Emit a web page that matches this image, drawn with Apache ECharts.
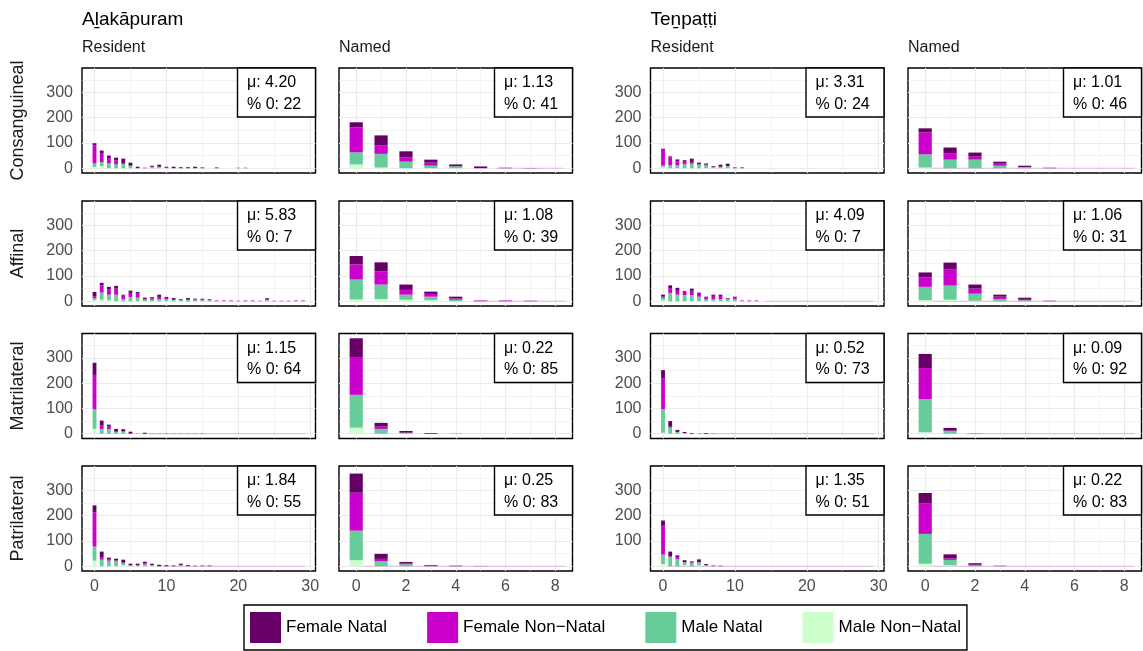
<!DOCTYPE html>
<html><head><meta charset="utf-8">
<script src="https://cdn.jsdelivr.net/npm/echarts@6/dist/echarts.min.js"></script>
<style>html,body{margin:0;padding:0;background:#fff}#c{width:1143px;height:651px}</style>
</head><body><div id="c"></div>
<script>
// ---------- labels ----------
const villages = ['Aḻakāpuram', 'Teṉpaṭṭi'];
const measures = ['Resident', 'Named'];
const relations = ['Consanguineal', 'Affinal', 'Matrilateral', 'Patrilateral'];
const groups = ['Female Natal', 'Female Non\u2212Natal', 'Male Natal', 'Male Non\u2212Natal'];
const groupColors = ['#660066', '#cc00cc', '#66cc99', '#ccffcc'];

// ---------- x categories / ticks ----------
const residentX = [0,1,2,3,4,5,6,7,8,9,10,11,12,13,14,15,16,17,18,19,20,21,22,23,24,25,26,27,28,29];
const namedX = [0,1,2,3,4,5,6,7,8];
const residentTicks = [0, 10, 20, 30];
const residentMinor = [5, 15, 25];
const namedTicks = [0, 2, 4, 6, 8];
const namedMinor = [1, 3, 5, 7];
const yTicks = [0, 100, 200, 300];
const yMinor = [50, 150, 250, 350];

// ---------- summary stats (mean, % zero) ----------
const muAlaRes = ['4.20', '5.83', '1.15', '1.84'];
const zeroAlaRes = ['22', '7', '64', '55'];
const muAlaNam = ['1.13', '1.08', '0.22', '0.25'];
const zeroAlaNam = ['41', '39', '85', '83'];
const muTenRes = ['3.31', '4.09', '0.52', '1.35'];
const zeroTenRes = ['24', '7', '73', '51'];
const muTenNam = ['1.01', '1.06', '0.09', '0.22'];
const zeroTenNam = ['46', '31', '92', '83'];

// ---------- counts: Aḻakāpuram, Resident ----------
const alaResConFN  = [8,10,10,10,17,12,6,2,4,8,4,6,4,4,6,3,0,3,0,0,0,0,0,0,0,0,0,0,0,0];
const alaResConFNN = [72,36,21,16,4,0,0,0,1,0,0,0,0,0,0,0,0,0,0,0,2,2,0,0,0,0,0,0,0,0];
const alaResConMN  = [14,15,19,16,17,10,0,0,5,6,2,0,0,0,0,0,0,0,0,0,0,0,0,0,0,0,0,0,0,0];
const alaResConMNN = [5,9,0,0,0,0,0,0,0,0,0,0,0,0,0,0,0,0,0,0,0,0,0,0,0,0,0,0,0,0];

const alaResAffFN  = [17,11,11,11,4,9,4,5,5,9,4,4,0,4,3,3,0,0,0,0,0,0,0,0,4,0,0,0,0,0];
const alaResAffFNN = [8,28,20,24,13,16,19,3,5,8,5,4,4,4,3,3,4,3,3,3,2,3,3,2,4,2,2,2,3,3];
const alaResAffMN  = [8,28,22,26,9,17,14,6,6,9,8,5,5,5,4,4,4,0,0,0,0,0,0,0,4,0,0,0,0,0];
const alaResAffMNN = [4,6,4,0,0,0,0,0,0,0,0,0,0,0,0,0,0,0,0,0,0,0,0,0,0,0,0,0,0,0];

const alaResMatFN  = [48,20,8,11,9,8,1,4,0,0,0,0,0,0,0,0,0,0,0,0,0,0,0,0,0,0,0,0,0,0];
const alaResMatFNN = [136,13,9,0,0,0,0,0,1,1,1,1,1,1,1,1,0,0,0,0,0,0,0,0,0,0,0,0,0,0];
const alaResMatMN  = [78,19,19,8,9,0,0,0,0,0,0,0,0,0,0,0,0,0,0,0,0,0,0,0,0,0,0,0,0,0];
const alaResMatMNN = [19,0,0,0,0,0,0,0,0,0,0,0,0,0,0,0,0,0,0,0,0,0,0,0,0,0,0,0,0,0];

const alaResPatFN  = [28,24,8,8,12,6,6,7,5,6,4,3,5,4,2,0,0,0,0,0,0,0,0,0,0,0,0,0,0,0];
const alaResPatFNN = [135,8,4,0,0,0,0,4,0,0,0,0,0,0,0,3,3,0,0,0,0,0,0,0,0,0,0,0,0,0];
const alaResPatMN  = [56,26,22,22,10,4,4,7,5,0,0,0,5,0,0,0,0,0,0,0,0,0,0,0,0,0,0,0,0,0];
const alaResPatMNN = [22,0,0,0,4,0,0,0,0,0,0,0,0,0,0,0,0,0,0,0,0,0,0,0,0,0,0,0,0,0];

// ---------- counts: Aḻakāpuram, Named ----------
const alaNamConFN  = [20,40,25,12,7,7,0,0,0];
const alaNamConFNN = [99,33,16,12,0,0,2,1,0];
const alaNamConMN  = [48,54,26,10,8,0,0,0,0];
const alaNamConMNN = [15,3,0,0,0,0,0,0,0];

const alaNamAffFN  = [33,36,21,9,7,0,0,0,0];
const alaNamAffFNN = [60,52,19,11,5,3,3,2,0];
const alaNamAffMN  = [79,57,20,14,6,0,0,0,0];
const alaNamAffMNN = [7,9,6,4,0,0,0,0,0];

const alaNamMatFN  = [77,15,7,3,0,0,0,0,0];
const alaNamMatFNN = [147,9,0,0,1,0,0,0,0];
const alaNamMatMN  = [130,19,4,0,0,0,0,0,0];
const alaNamMatMNN = [24,0,0,0,0,0,0,0,0];

const alaNamPatFN  = [76,20,5,2,2,0,0,0,0];
const alaNamPatFNN = [150,9,4,3,0,1,0,0,0];
const alaNamPatMN  = [117,20,8,0,0,0,0,0,0];
const alaNamPatMNN = [24,0,0,0,0,0,0,0,0];

// ---------- counts: Teṉpaṭṭi, Resident ----------
const tenResConFN  = [4,4,8,3,13,7,5,3,8,9,3,3,0,0,0,0,0,0,0,0,0,0,0,0,0,0,0,0,0,0];
const tenResConFNN = [62,32,16,13,7,0,3,0,2,0,0,0,0,0,0,0,0,0,0,0,0,0,0,0,0,0,0,0,0,0];
const tenResConMN  = [7,11,11,16,18,15,11,5,4,9,0,0,0,0,0,0,0,0,0,0,0,0,0,0,0,0,0,0,0,0];
const tenResConMNN = [4,0,0,0,0,0,0,0,0,0,0,0,0,0,0,0,0,0,0,0,0,0,0,0,0,0,0,0,0,0];

const tenResAffFN  = [8,11,12,0,9,5,4,5,5,3,0,0,0,0,0,0,0,0,0,0,0,0,0,0,0,0,0,0,0,0];
const tenResAffFNN = [4,19,15,17,17,11,7,13,13,0,9,3,3,3,0,0,0,0,0,0,0,0,0,0,0,0,0,0,0,0];
const tenResAffMN  = [10,33,26,24,24,18,7,8,8,10,9,0,0,0,0,0,0,0,0,0,0,0,0,0,0,0,0,0,0,0];
const tenResAffMNN = [4,0,0,0,0,0,0,0,0,0,0,0,0,0,0,0,0,0,0,0,0,0,0,0,0,0,0,0,0,0];

const tenResMatFN  = [34,22,8,4,3,0,3,0,0,0,0,0,0,0,0,0,0,0,0,0,0,0,0,0,0,0,0,0,0,0];
const tenResMatFNN = [120,4,0,0,0,1,0,1,0,0,0,0,0,0,0,0,0,0,0,0,0,0,0,0,0,0,0,0,0,0];
const tenResMatMN  = [94,24,7,3,0,0,0,0,0,0,0,0,0,0,0,0,0,0,0,0,0,0,0,0,0,0,0,0,0,0];
const tenResMatMNN = [4,0,0,0,0,0,0,0,0,0,0,0,0,0,0,0,0,0,0,0,0,0,0,0,0,0,0,0,0,0];

const tenResPatFN  = [21,19,8,8,4,11,4,0,2,0,0,0,0,0,0,0,0,0,0,0,0,0,0,0,0,0,0,0,0,0];
const tenResPatFNN = [114,2,7,0,3,0,0,3,0,0,0,0,0,0,0,0,0,0,0,0,0,0,0,0,0,0,0,0,0,0];
const tenResPatMN  = [37,37,28,12,12,12,5,0,0,0,0,0,0,0,0,0,0,0,0,0,0,0,0,0,0,0,0,0,0,0];
const tenResPatMNN = [9,0,0,4,0,4,0,0,0,0,0,0,0,0,0,0,0,0,0,0,0,0,0,0,0,0,0,0,0,0];

// ---------- counts: Teṉpaṭṭi, Named ----------
const tenNamConFN  = [16,24,16,8,5,0,0,0,0];
const tenNamConFNN = [87,24,12,8,0,2,0,0,0];
const tenNamConMN  = [52,34,34,10,5,0,0,0,0];
const tenNamConMNN = [3,0,0,0,0,0,0,0,0];

const tenNamAffFN  = [20,28,16,8,5,0,0,0,0];
const tenNamAffFNN = [37,63,20,9,5,2,0,0,0];
const tenNamAffMN  = [53,56,28,9,4,0,0,0,0];
const tenNamAffMNN = [4,6,2,0,0,0,0,0,0];

const tenNamMatFN  = [56,11,0,0,0,0,0,0,0];
const tenNamMatFNN = [123,0,1,0,0,0,0,0,0];
const tenNamMatMN  = [131,12,0,0,0,0,0,0,0];
const tenNamMatMNN = [6,0,0,0,0,0,0,0,0];

const tenNamPatFN  = [40,16,6,0,0,0,0,0,0];
const tenNamPatFNN = [122,6,3,2,0,0,0,0,0];
const tenNamPatMN  = [118,21,3,0,0,0,0,0,0];
const tenNamPatMNN = [10,4,0,0,0,0,0,0,0];

// ---------- faint zero-level trace along the baseline (x from, x to) ----------
const faintAlaRes = [null, null, [6.6, 29.3], [8.7, 29.3]];
const faintAlaNam = [[5.6, 8.3], [4.7, 8.4], null, [0.3, 8.4]];
const faintTenRes = [null, [14.3, 29.3], [5.0, 29.3], [0.5, 29.3]];
const faintTenNam = [[0.3, 8.4], [0.3, 8.4], [1.6, 8.4], [0.3, 8.4]];

// ---------- assemble ----------
const panels = [
  [ // Aḻakāpuram
    [[alaResConFN,alaResConFNN,alaResConMN,alaResConMNN],[alaResAffFN,alaResAffFNN,alaResAffMN,alaResAffMNN],
     [alaResMatFN,alaResMatFNN,alaResMatMN,alaResMatMNN],[alaResPatFN,alaResPatFNN,alaResPatMN,alaResPatMNN]],
    [[alaNamConFN,alaNamConFNN,alaNamConMN,alaNamConMNN],[alaNamAffFN,alaNamAffFNN,alaNamAffMN,alaNamAffMNN],
     [alaNamMatFN,alaNamMatFNN,alaNamMatMN,alaNamMatMNN],[alaNamPatFN,alaNamPatFNN,alaNamPatMN,alaNamPatMNN]]
  ],
  [ // Teṉpaṭṭi
    [[tenResConFN,tenResConFNN,tenResConMN,tenResConMNN],[tenResAffFN,tenResAffFNN,tenResAffMN,tenResAffMNN],
     [tenResMatFN,tenResMatFNN,tenResMatMN,tenResMatMNN],[tenResPatFN,tenResPatFNN,tenResPatMN,tenResPatMNN]],
    [[tenNamConFN,tenNamConFNN,tenNamConMN,tenNamConMNN],[tenNamAffFN,tenNamAffFNN,tenNamAffMN,tenNamAffMNN],
     [tenNamMatFN,tenNamMatFNN,tenNamMatMN,tenNamMatMNN],[tenNamPatFN,tenNamPatFNN,tenNamPatMN,tenNamPatMNN]]
  ]
];
const stats = [
  [[muAlaRes, zeroAlaRes], [muAlaNam, zeroAlaNam]],
  [[muTenRes, zeroTenRes], [muTenNam, zeroTenNam]]
];
const faint = [[faintAlaRes, faintAlaNam], [faintTenRes, faintTenNam]];
// y tick labels shown per village/row (Teṉpaṭṭi patrilateral shows no 0)
const yLabelSets = [
  [yTicks, yTicks, yTicks, yTicks],
  [yTicks, yTicks, yTicks, [100, 200, 300]]
];

// ---------- layout ----------
const FONT = "'Liberation Sans', Arial, 'DejaVu Sans', sans-serif";
const W = 233.5, H = 105;
const colLefts = [82, 339, 650.5, 908];
const rowTops = [68, 201, 333.5, 466];
const barUnits = 0.53;
const gridColor = '#ebebeb';

let yMaxData = 0;
panels.forEach(pv => pv.forEach(pm => pm.forEach(pr => {
  pr[0].forEach((_, i) => { const t = pr[0][i] + pr[1][i] + pr[2][i] + pr[3][i]; if (t > yMaxData) yMaxData = t; });
})));
const yPad = 0.05 * yMaxData;
const yMin = -yPad, yMax = yMaxData + yPad;

const grids = [], xAxes = [], yAxes = [], series = [], graphics = [];
let gi = 0;
villages.forEach((vName, v) => {
  graphics.push({type: 'text', left: colLefts[v * 2], top: 10, z: 100,
    style: {text: vName, font: '19px ' + FONT, fill: '#000'}});
  measures.forEach((mName, m) => {
    const col = v * 2 + m;
    const xs = m === 0 ? residentX : namedX;
    const major = m === 0 ? residentTicks : namedTicks;
    const minor = m === 0 ? residentMinor : namedMinor;
    const lo = xs[0] - barUnits / 2, hi = xs[xs.length - 1] + barUnits / 2;
    const pad = 0.05 * (hi - lo);
    const xMin = lo - pad, xMax = hi + pad;
    const bw = barUnits * W / (xMax - xMin);
    graphics.push({type: 'text', left: colLefts[col], top: 40, z: 100,
      style: {text: mName, font: '16px ' + FONT, fill: '#1a1a1a'}});
    relations.forEach((rName, r) => {
      const left = colLefts[col], top = rowTops[r];
      grids.push({left: left, top: top, width: W, height: H, show: true,
        borderColor: '#000', borderWidth: 1.4, backgroundColor: '#fff', outerBoundsMode: 'none'});
      const common = {type: 'value', gridIndex: gi, min: xMin, max: xMax, axisLine: {show: false}};
      xAxes.push(Object.assign({}, common, {
        axisTick: {show: false, customValues: major},
        axisLabel: {show: r === 3, customValues: major, fontSize: 16, color: '#4d4d4d', fontFamily: FONT, margin: 8},
        splitLine: {show: true, lineStyle: {color: gridColor, width: 1.1}}
      }));
      xAxes.push(Object.assign({}, common, {
        axisTick: {show: false, customValues: minor},
        axisLabel: {show: false},
        splitLine: {show: true, lineStyle: {color: gridColor, width: 0.55}}
      }));
      const ycommon = {type: 'value', gridIndex: gi, min: yMin, max: yMax, axisLine: {show: false}};
      yAxes.push(Object.assign({}, ycommon, {
        axisTick: {show: false, customValues: yTicks},
        axisLabel: {show: m === 0, customValues: yLabelSets[v][r], fontSize: 16, color: '#4d4d4d', fontFamily: FONT, margin: 9},
        splitLine: {show: true, lineStyle: {color: gridColor, width: 1.1}}
      }));
      yAxes.push(Object.assign({}, ycommon, {
        axisTick: {show: false, customValues: yMinor},
        axisLabel: {show: false},
        splitLine: {show: true, lineStyle: {color: gridColor, width: 0.55}}
      }));
      const fr = faint[v][m][r];
      if (fr) {
        series.push({
          type: 'line', name: 'baseline', xAxisIndex: 2 * gi, yAxisIndex: 2 * gi,
          data: [[fr[0], 0], [fr[1], 0]], symbol: 'none', silent: true, z: 1,
          lineStyle: {color: '#dfb8df', width: 1}
        });
      }
      const vals = panels[v][m][r];
      [3, 2, 1, 0].forEach(k => {
        series.push({
          type: 'bar', name: groups[k], stack: 'p' + gi,
          xAxisIndex: 2 * gi, yAxisIndex: 2 * gi,
          barWidth: bw, silent: true,
          itemStyle: {color: groupColors[k]},
          // count first so that the stacked dimension is the count (y)
          dimensions: [{name: 'count', type: 'float'}, {name: 'size', type: 'float'}],
          encode: {x: 'size', y: 'count'},
          data: xs.map((x, i) => [vals[k][i], x])
        });
      });
      // stats box
      const bx = left + W - 78;
      graphics.push({type: 'rect', x: bx, y: top, z: 100,
        shape: {x: 0, y: 0, width: 78, height: 49},
        style: {fill: '#fff', stroke: '#000', lineWidth: 1.4}});
      graphics.push({type: 'text', x: bx + 9.5, y: top + 3.9, z: 101,
        style: {text: 'μ: ' + stats[v][m][0][r] + '\n% 0: ' + stats[v][m][1][r],
          font: '16px ' + FONT, fill: '#000', lineHeight: 21.6, verticalAlign: 'top'}});
      // row strip labels (left plot only)
      if (v === 0 && m === 0) {
        graphics.push({type: 'text', x: 18, y: top + H / 2, rotation: Math.PI / 2, z: 100,
          style: {text: rName, font: '18px ' + FONT, fill: '#1a1a1a', align: 'center', verticalAlign: 'middle'}});
      }
      gi++;
    });
  });
});

const chart = echarts.init(document.getElementById('c'), null, {renderer: 'canvas'});
chart.setOption({
  animation: false,
  backgroundColor: '#fff',
  grid: grids,
  xAxis: xAxes,
  yAxis: yAxes,
  series: series,
  legend: {
    data: groups, left: 244, top: 605, icon: 'rect', itemWidth: 31, itemHeight: 31, itemGap: 40,
    padding: [7, 6, 7, 6], borderColor: '#000', borderWidth: 1.4, backgroundColor: '#fff',
    selectedMode: false, textStyle: {fontSize: 17, color: '#000', fontFamily: FONT}
  },
  graphic: {elements: graphics}
});
</script></body></html>
